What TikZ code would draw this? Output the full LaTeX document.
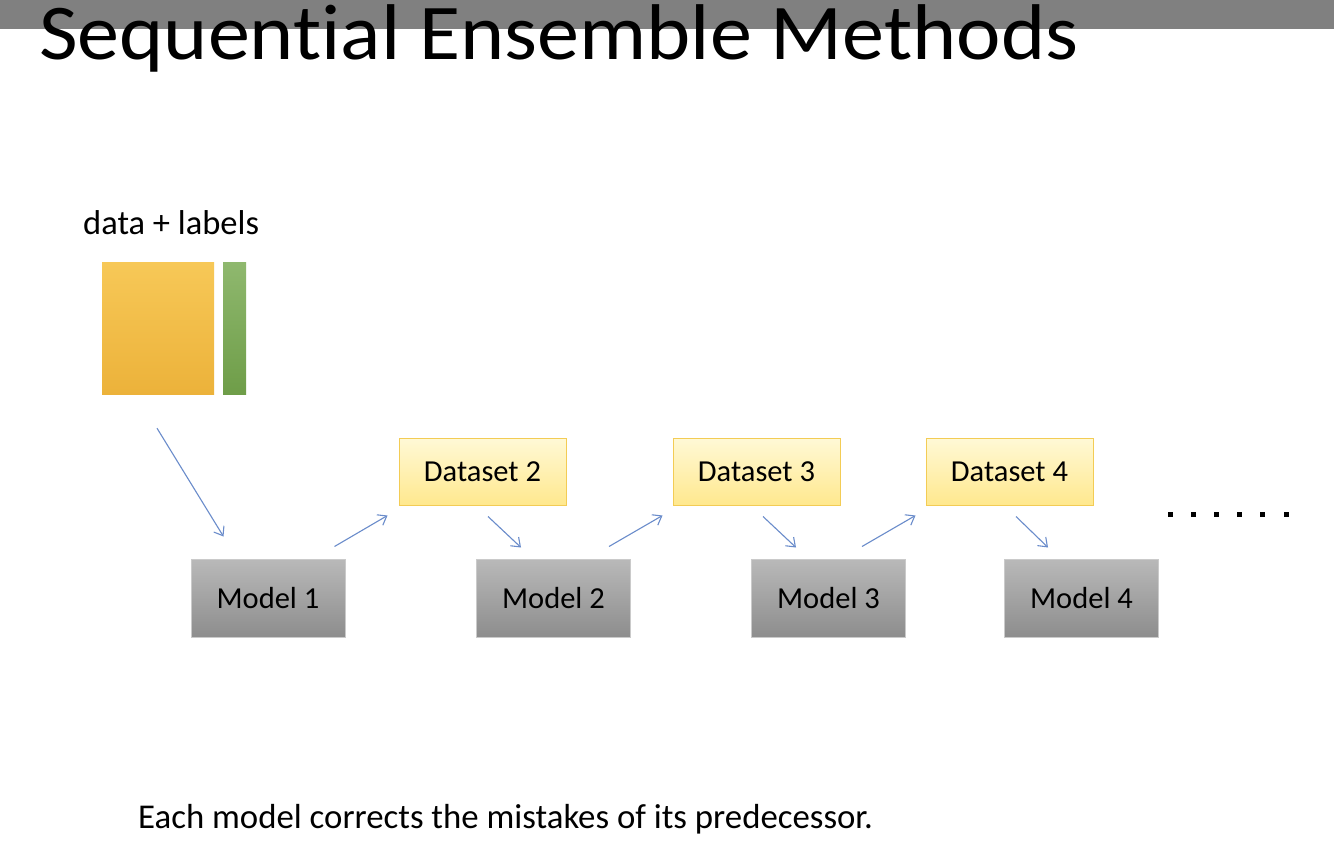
\documentclass[tikz,border=0pt]{standalone}
\usepackage{graphicx}
\usepackage{fontspec}
\setmainfont{Carlito}[Ligatures={NoCommon,NoRequired,NoContextual}]
\usetikzlibrary{arrows.meta,calc}
\definecolor{barcol}{HTML}{808080}
\definecolor{datatop}{HTML}{F7C857}
\definecolor{databot}{HTML}{ECB23A}
\definecolor{labtop}{HTML}{8FB86E}
\definecolor{labbot}{HTML}{6E9D48}
\definecolor{dstop}{HTML}{FFF9D6}
\definecolor{dsbot}{HTML}{FFE88E}
\definecolor{dsline}{HTML}{F3CC55}
\definecolor{mdtop}{HTML}{B9B9B9}
\definecolor{mdbot}{HTML}{8D8D8D}
\definecolor{mdline}{HTML}{CACACA}
\definecolor{arrcol}{HTML}{6A8CCB}
\begin{document}
\begin{tikzpicture}[x=1pt,y=-1pt,
  txt/.style={font=\fontsize{30.5}{36}\selectfont, text=black},
  dsbox/.style={txt, minimum width=167pt, minimum height=67pt, draw=dsline,
    line width=1pt, top color=dstop, bottom color=dsbot, inner sep=0pt},
  mdbox/.style={txt, minimum width=154pt, minimum height=78pt, draw=mdline,
    line width=1pt, top color=mdtop, bottom color=mdbot, inner sep=0pt},
  conn/.style={draw=arrcol, line width=1.1pt,
    -{Straight Barb[length=8pt,width=12pt]}}]
\useasboundingbox (0,0) rectangle (1334,842);
\fill[white] (0,0) rectangle (1334,842);
% header bar and title
\fill[barcol] (0,0) rectangle (1334,29);
\node[anchor=base west, inner sep=0pt, font=\fontsize{79}{90}\selectfont] (title) at (39,60) {\scalebox{1.065}[1]{Sequential Ensemble Methods}};
% training data with its label column
\node[anchor=base west, inner sep=0pt, font=\fontsize{34.5}{40}\selectfont] (dlabel) at (83,235) {data + labels};
\node[minimum width=112pt, minimum height=132pt, inner sep=0pt, top color=datatop, bottom color=databot] (data) at (158,329) {};
\node[minimum width=23pt, minimum height=132pt, inner sep=0pt, top color=labtop, bottom color=labbot] (lab) at (234.5,329) {};
% datasets
\node[dsbox] (d2) at (482.5,471.5) {Dataset 2};
\node[dsbox] (d3) at (756.5,471.5) {Dataset 3};
\node[dsbox] (d4) at (1009.5,471.5) {Dataset 4};
% models
\node[mdbox] (m1) at (268,598) {Model 1};
\node[mdbox] (m2) at (553.5,598) {Model 2};
\node[mdbox] (m3) at (828.5,598) {Model 3};
\node[mdbox] (m4) at (1081.5,598) {Model 4};
% sequence of arrows
\draw[conn] ($(data.south)+(-1,33)$) -- ($(m1.north west)+(33,-22)$);
\draw[conn] ($(m1.north east)+(-11,-12)$) -- ($(d2.south west)+(-11,10)$);
\draw[conn] ($(d2.south)+(5.5,11)$) -- ($(m2.north)+(-32.5,-11)$);
\draw[conn] ($(m2.north east)+(-22,-12)$) -- ($(d3.south west)+(-10,10)$);
\draw[conn] ($(d3.south)+(6.5,11)$) -- ($(m3.north)+(-32.5,-11)$);
\draw[conn] ($(m3.north east)+(-44,-12)$) -- ($(d4.south west)+(-10,10)$);
\draw[conn] ($(d4.south)+(6.5,11)$) -- ($(m4.north)+(-33.5,-11)$);
% continuation dots
\foreach \x in {1170,1193.2,1216.4,1239.6,1262.8,1286}
  \fill[black] (\x-2.5,511.5) rectangle +(5,5);
% caption
\node[anchor=base west, inner sep=0pt, font=\fontsize{34.8}{40}\selectfont] (caption) at (138,828) {Each model corrects the mistakes of its predecessor.};
\end{tikzpicture}
\end{document}
